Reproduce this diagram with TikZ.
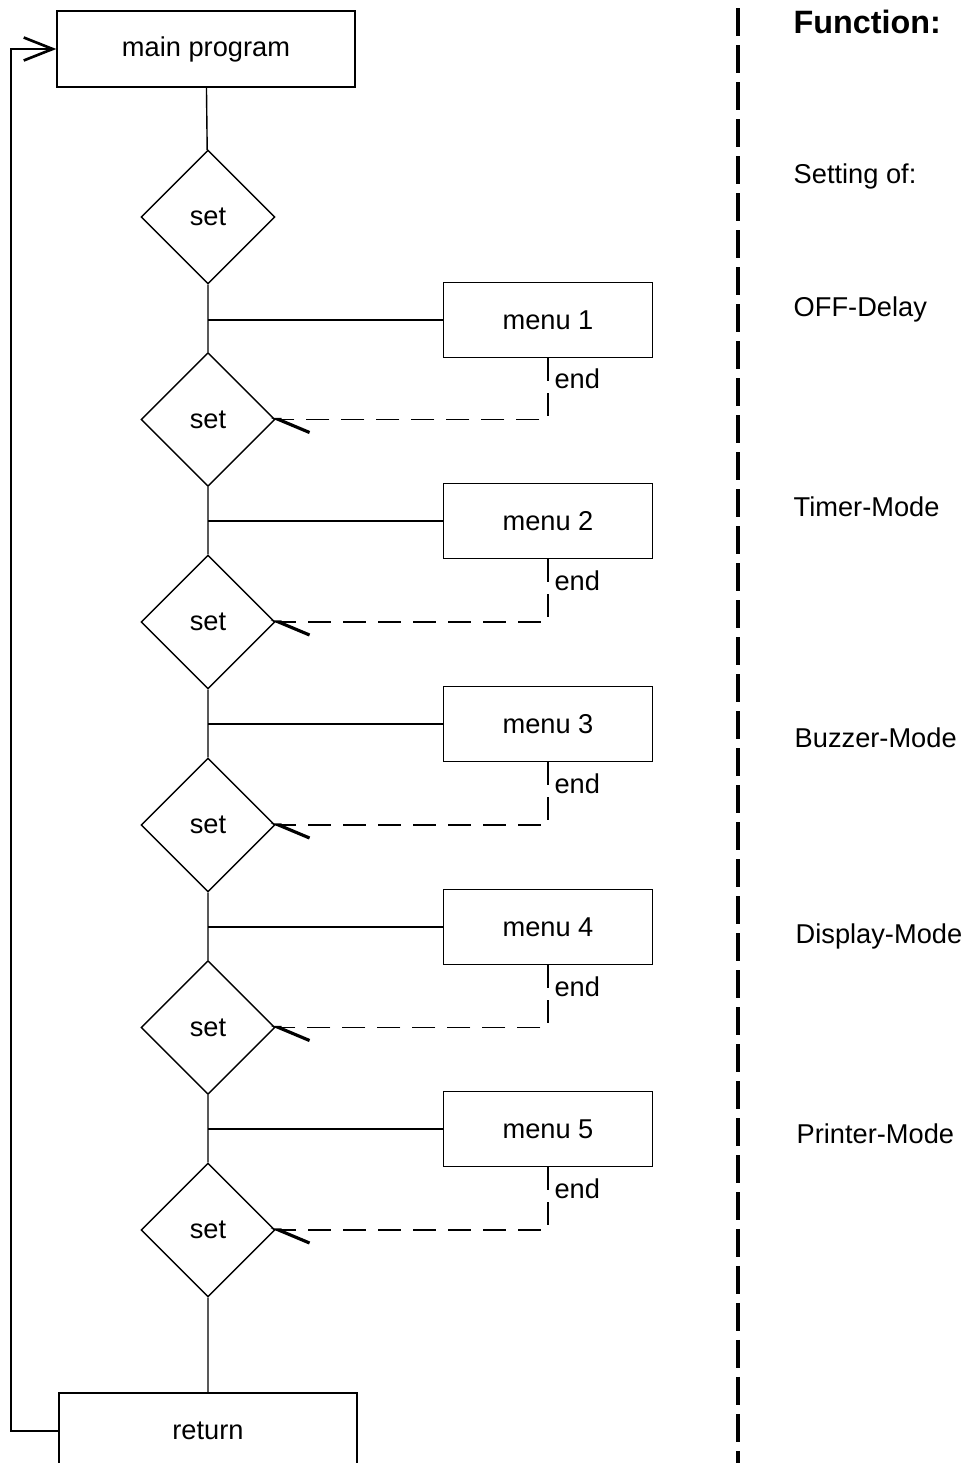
\documentclass[tikz,border=0pt]{standalone}
\usepackage{fontspec}
\setmainfont{Liberation Sans}
\usetikzlibrary{positioning, arrows.meta, shapes.geometric}

\begin{document}
\begin{tikzpicture}[
    font=\fontsize{15.5}{18}\selectfont,
    line width=0.8pt,
    box/.style={draw, minimum width=5.96cm, minimum height=1.52cm},
    menubox/.style={draw, minimum width=4.18cm, minimum height=1.5cm},
    query/.style={draw, diamond, minimum width=2.68cm, minimum height=2.68cm,
      inner sep=0pt},
    endline/.style={dash pattern=on 0.46cm off 0.24cm, shorten >=-0.1cm,
      -{Straight Barb[left, length=0.62cm, width=0.52cm, line width=1.8pt]}},
    back/.style={-{Straight Barb[length=0.58cm, width=0.46cm, line width=1.5pt]}},
    sep/.style={line width=2pt, dash pattern=on 0.56cm off 0.18cm},
    func/.style={anchor=west, inner sep=0pt}
  ]
  \clip (0,0) rectangle (19.3,-29.26);
  % main column
  \node[box] (main) at (4.12,-0.98) {main program};
  \node[query] (set1) at (4.16,-4.34)  {set};
  \node[query] (set2) at (4.16,-8.39)  {set};
  \node[query] (set3) at (4.16,-12.44) {set};
  \node[query] (set4) at (4.16,-16.50) {set};
  \node[query] (set5) at (4.16,-20.55) {set};
  \node[query] (set6) at (4.16,-24.60) {set};
  \node[box] (ret) at (4.16,-28.62) {return};
  % menus
  \node[menubox] (menu1) at (10.96,-6.40)  {menu 1};
  \node[menubox] (menu2) at (10.96,-10.42) {menu 2};
  \node[menubox] (menu3) at (10.96,-14.48) {menu 3};
  \node[menubox] (menu4) at (10.96,-18.54) {menu 4};
  \node[menubox] (menu5) at (10.96,-22.58) {menu 5};
  \draw (main) -- (set1) -- (set2) -- (set3) -- (set4) -- (set5) -- (set6) -- (ret);
  \foreach \m/\s in {1/2, 2/3, 3/4, 4/5, 5/6} {
    \draw (menu\m.west) -- (menu\m.west -| set\s.north);
    \draw[endline] (menu\m.south) |- node[pos=0.17, right]{end} (set\s.east);
  }
  % loop back
  \coordinate (loop) at (0.22,-0.98);
  \draw[back] (ret.west) -| (loop) -- (main.west);
  % function column
  \coordinate (septop) at (14.76,-0.16);
  \coordinate (sepbot) at (14.76,-29.4);
  \draw[sep] (septop) -- (sepbot);
  \node[func, font=\fontsize{18.4}{22}\selectfont\bfseries] (head) at (15.86,-0.44) {Function:};
  \node[func] (setting) at (15.86,-3.52)  {Setting of:};
  \node[func] (offdel)  at (15.86,-6.18)  {OFF-Delay};
  \node[func] (timer)   at (15.86,-10.14) {Timer-Mode};
  \node[func] (buzzer)  at (15.88,-14.76) {Buzzer-Mode};
  \node[func] (display) at (15.90,-18.72) {Display-Mode};
  \node[func] (printer) at (15.92,-22.68) {Printer-Mode};
\end{tikzpicture}
\end{document}
